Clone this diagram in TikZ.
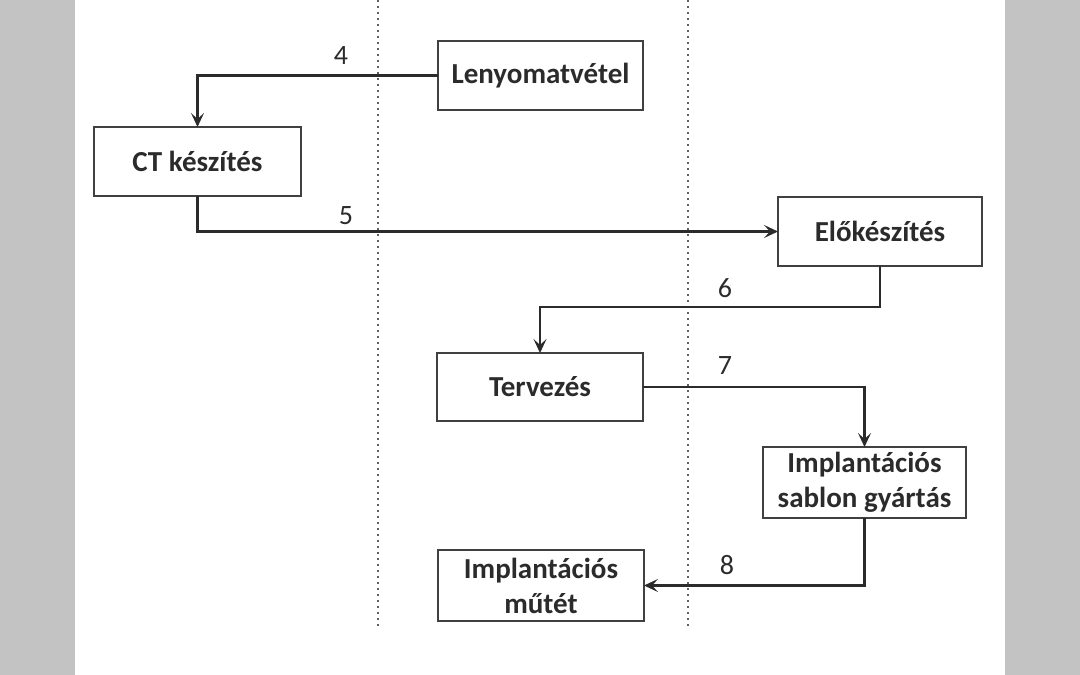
\documentclass[tikz,border=0pt]{standalone}
\usepackage{fontspec}
\setmainfont{Carlito}
\usetikzlibrary{arrows.meta,calc}
\definecolor{bargray}{HTML}{C3C3C3}
\definecolor{ink}{HTML}{2B2B2B}
\tikzset{
  stepbox/.style={draw=ink!90, line width=1.9pt, fill=white, text=ink,
    font=\fontsize{29}{35}\selectfont\bfseries, align=center,
    inner sep=0pt, outer sep=0pt},
  flow/.style={draw=ink, line width=2.3pt, -{Stealth[length=14pt,width=13pt,inset=6pt]}},
  numlabel/.style={text=ink, font=\fontsize{28}{30}\selectfont},
  divider/.style={draw=ink!75, line width=1.5pt, dash pattern=on 2pt off 4pt}
}
\begin{document}
\begin{tikzpicture}[x=1pt,y=-1pt]
\useasboundingbox (0,0) rectangle (1080,675);
\fill[bargray] (0,0) rectangle (75,675);
\fill[bargray] (1005,0) rectangle (1080,675);
% dividers
\coordinate (d1t) at (378,0); \coordinate (d1b) at (378,628);
\coordinate (d2t) at (688,0); \coordinate (d2b) at (688,628);
\draw[divider] (d1t) -- (d1b);
\draw[divider] (d2t) -- (d2b);
% boxes
\node[stepbox, minimum width=205pt, minimum height=69pt] (L) at (540.5,75.5) {Lenyomatvétel};
\node[stepbox, minimum width=207pt, minimum height=69pt] (CT) at (197.5,161.5) {CT készítés};
\node[stepbox, minimum width=204pt, minimum height=69pt] (E) at (880,231.5) {Előkészítés};
\node[stepbox, minimum width=206pt, minimum height=68pt] (T) at (540,387) {Tervezés};
\node[stepbox, minimum width=203pt, minimum height=71pt] (S) at (864.5,482.5) {Implantációs\\sablon gyártás};
\node[stepbox, minimum width=206pt, minimum height=71pt] (M) at (541,585.5) {Implantációs\\műtét};
% connectors
\draw[flow] (L.west) -| (CT.north);
\draw[flow] (CT.south) |- (E.west);
\coordinate (c6) at (540,307);
\draw[flow] (E.south) |- (c6) -- (T.north);
\draw[flow] (T.east) -| (S.north);
\draw[flow] (S.south) |- (M.east);
% labels
\node[numlabel] (n4) at (341,56) {4};
\node[numlabel] (n5) at (346,216) {5};
\node[numlabel] (n6) at (725,288) {6};
\node[numlabel] (n7) at (725,366) {7};
\node[numlabel] (n8) at (727,565) {8};
\end{tikzpicture}
\end{document}
